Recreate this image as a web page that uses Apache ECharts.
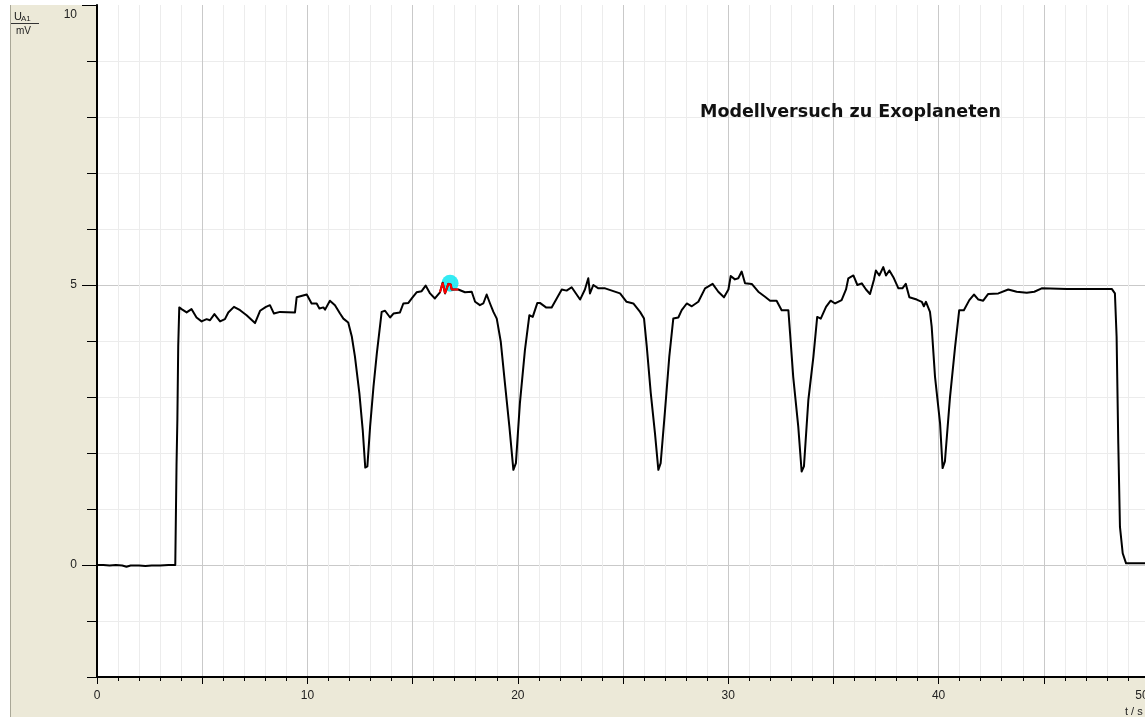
<!DOCTYPE html>
<html>
<head>
<meta charset="utf-8">
<title>Modellversuch zu Exoplaneten</title>
<script src="https://cdn.jsdelivr.net/npm/echarts@6/dist/echarts.min.js"></script>
<style>
  html, body { margin: 0; padding: 0; background: #ffffff; }
  #chart { width: 1145px; height: 717px; }
</style>
</head>
<body>
<div id="chart"></div>
<script>
// Measured light-curve: photo voltage U_A1 (mV) over time t (s)
const timeS = [
  0.00, 0.30, 0.60, 0.90, 1.20, 1.40, 1.60, 2.00, 2.30, 2.60, 3.00, 3.40, 3.72,
  3.78, 3.82, 3.86, 3.91, 4.02, 4.26, 4.49, 4.73, 4.97, 5.21, 5.37, 5.58, 5.85,
  6.08, 6.24, 6.51, 6.80, 7.11, 7.51, 7.75, 8.03, 8.22, 8.41, 8.70, 9.41, 9.49,
  9.97, 10.20, 10.44, 10.57, 10.76, 10.84, 11.07, 11.31, 11.55, 11.71, 11.94,
  12.11, 12.26, 12.47, 12.63, 12.75, 12.85, 12.98, 13.14, 13.30, 13.53, 13.69,
  13.93, 14.09, 14.40, 14.48, 14.56, 14.80, 14.96, 15.19, 15.43, 15.62, 15.83,
  16.06, 16.30, 16.43, 16.54, 16.70, 16.81, 16.86, 17.17, 17.49, 17.81, 17.97,
  18.20, 18.36, 18.52, 18.68, 18.84, 19.00, 19.19, 19.39, 19.60, 19.79, 19.91,
  20.10, 20.34, 20.55, 20.71, 20.93, 21.05, 21.34, 21.61, 21.85, 22.09, 22.32,
  22.56, 22.96, 23.19, 23.35, 23.43, 23.59, 23.83, 24.15, 24.54, 24.86, 25.17,
  25.49, 25.81, 26.00, 26.13, 26.32, 26.52, 26.68, 26.79, 27.00, 27.20, 27.39,
  27.63, 27.79, 28.03, 28.27, 28.58, 28.90, 29.26, 29.53, 29.80, 30.01, 30.12,
  30.32, 30.48, 30.64, 30.80, 31.12, 31.43, 31.75, 31.99, 32.30, 32.54, 32.86,
  32.94, 33.09, 33.33, 33.49, 33.60, 33.81, 34.05, 34.23, 34.40, 34.65, 34.87,
  35.08, 35.39, 35.60, 35.71, 35.95, 36.14, 36.35, 36.55, 36.74, 36.93, 37.02,
  37.18, 37.37, 37.50, 37.66, 37.85, 38.09, 38.28, 38.44, 38.61, 38.96, 39.20,
  39.30, 39.40, 39.59, 39.67, 39.83, 40.07, 40.19, 40.30, 40.54, 40.78, 40.98,
  41.20, 41.46, 41.68, 41.89, 42.12, 42.36, 42.84, 43.31, 43.71, 44.19, 44.55,
  44.90, 46.09, 47.19, 48.23, 48.38, 48.46, 48.54, 48.62, 48.75, 48.91, 49.50,
  49.90
];
const voltageMV = [
  0.00, 0.00, -0.01, 0.00, -0.01, -0.03, -0.01, -0.01, -0.02, -0.01, -0.01, 0.00, 0.00,
  1.80, 2.60, 3.90, 4.60, 4.57, 4.51, 4.57, 4.42, 4.35, 4.39, 4.37, 4.48, 4.35,
  4.39, 4.51, 4.61, 4.55, 4.46, 4.32, 4.54, 4.61, 4.64, 4.49, 4.52, 4.51, 4.78,
  4.83, 4.67, 4.67, 4.58, 4.60, 4.56, 4.72, 4.64, 4.49, 4.40, 4.33,
  4.08, 3.72, 3.07, 2.41, 1.74, 1.76, 2.47, 3.18, 3.78, 4.52, 4.54,
  4.42, 4.49, 4.51, 4.51, 4.67, 4.68, 4.76, 4.87, 4.89, 4.99, 4.85,
  4.76, 4.87, 5.04, 4.85, 5.02, 5.01, 4.92, 4.92, 4.87, 4.88, 4.70,
  4.64, 4.67, 4.83, 4.67, 4.52, 4.40, 3.99, 3.24, 2.47, 1.70, 1.82,
  2.89, 3.84, 4.46, 4.43, 4.68, 4.68, 4.60, 4.60, 4.76, 4.92, 4.90,
  4.96, 4.74, 4.92, 5.12, 4.85, 5.00, 4.94, 4.94, 4.89, 4.85, 4.70,
  4.67, 4.52, 4.40, 3.90, 3.07, 2.35, 1.70, 1.82, 2.77, 3.72, 4.40,
  4.42, 4.55, 4.67, 4.62, 4.70, 4.94, 5.02, 4.88, 4.78, 4.92, 5.16,
  5.10, 5.12, 5.24, 5.03, 5.02, 4.88, 4.79, 4.72, 4.72, 4.55, 4.55,
  4.14, 3.36, 2.47, 1.67, 1.76, 2.95, 3.72, 4.43, 4.40, 4.61, 4.72,
  4.67, 4.73, 4.92, 5.12, 5.17, 5.00, 5.03, 4.92, 4.84, 5.10, 5.26,
  5.17, 5.32, 5.17, 5.26, 5.14, 4.94, 4.94, 5.02, 4.78, 4.74, 4.70,
  4.62, 4.70, 4.52, 4.26, 3.36, 2.53, 1.73, 1.85, 2.99, 3.88, 4.55,
  4.55, 4.73, 4.83, 4.74, 4.72, 4.84, 4.85, 4.92, 4.88, 4.86, 4.88,
  4.94, 4.93, 4.93, 4.93, 4.85, 4.08, 2.17, 0.68, 0.21, 0.03, 0.03,
  0.03
];

// Cursor: highlighted stretch of the trace and the cursor point
const cursorRangeS = [16.30, 17.17];
const cursorPoint = [16.78, 5.03];

// Axis labelling
const xLabelValues = [0, 10, 20, 30, 40, 50];
const yLabelValues = [0, 5, 10];
const chartTitle = 'Modellversuch zu Exoplaneten';

const trace = timeS.map((t, i) => [t, voltageMV[i]]);
const cursorTrace = trace.filter(p => p[0] >= cursorRangeS[0] && p[0] <= cursorRangeS[1]);

const PANEL = '#ECE9D8';
const TXT = '#222222';
const FONT = 'Liberation Sans, Arial, sans-serif';
const GRID_MAJOR = '#c9c9c9';
const GRID_MINOR = '#ececec';

const chart = echarts.init(document.getElementById('chart'), null, { renderer: 'canvas' });

const lastX = xLabelValues[xLabelValues.length - 1];
const lastY = yLabelValues[yLabelValues.length - 1];

chart.setOption({
  animation: false,
  backgroundColor: '#ffffff',
  title: {
    text: chartTitle,
    left: 700,
    top: 103,
    padding: 0,
    textStyle: { fontFamily: 'DejaVu Sans', fontSize: 17.5, fontWeight: 'bold', color: '#111111' }
  },
  // the plot runs slightly past the right edge of the page (t = 50 s lies just outside)
  grid: { left: 97, right: -4, top: 5, bottom: 40, show: false, containLabel: false, outerBoundsMode: 'none' },
  xAxis: [
    {
      type: 'value', min: 0, max: 50, interval: 1, position: 'bottom',
      axisLine: { show: true, onZero: false, lineStyle: { color: '#000', width: 2 } },
      axisTick: { show: true, length: 4, lineStyle: { color: '#000', width: 1 } },
      axisLabel: { show: false },
      splitLine: {
        show: true,
        lineStyle: { width: 1, color: [GRID_MAJOR, GRID_MINOR, GRID_MINOR, GRID_MINOR, GRID_MINOR] }
      }
    },
    {
      type: 'value', min: 0, max: 50, interval: 5, position: 'bottom',
      axisLine: { show: false, onZero: false },
      axisTick: { show: true, length: 7, lineStyle: { color: '#000', width: 1 } },
      axisLabel: {
        show: true, margin: 13, color: TXT, fontFamily: FONT, fontSize: 12,
        hideOverlap: false,
        // last label is nudged left so it stays near the page edge
        formatter: v => (xLabelValues.includes(v) ? (v === lastX ? '{end|' + v + '}' : '{n|' + v + '}') : ''),
        rich: {
          end: { padding: [0, 14, 0, 0], color: TXT, fontFamily: FONT, fontSize: 12 },
          n: { color: TXT, fontFamily: FONT, fontSize: 12 }
        }
      },
      splitLine: { show: false }
    }
  ],
  yAxis: [
    {
      type: 'value', min: -2, max: 10, interval: 1, position: 'left',
      axisLine: { show: true, onZero: false, lineStyle: { color: '#000', width: 2 } },
      axisTick: { show: true, length: 10, lineStyle: { color: '#000', width: 1 } },
      axisLabel: { show: false },
      splitLine: {
        show: true, showMaxLine: false,
        lineStyle: { width: 1, color: [GRID_MINOR, GRID_MINOR, GRID_MAJOR, GRID_MINOR, GRID_MINOR] }
      }
    },
    {
      type: 'value', min: -2, max: 10, interval: 1, position: 'left',
      axisLine: { show: false, onZero: false },
      axisTick: { show: true, length: 15, customValues: yLabelValues, lineStyle: { color: '#000', width: 1 } },
      axisLabel: {
        show: true, margin: 20, customValues: yLabelValues, color: TXT, fontFamily: FONT, fontSize: 12,
        // top label sits just below its tick
        formatter: v => (v === lastY ? '{top|' + v + '}' : '{n|' + v + '}'),
        rich: {
          top: { padding: [20, 0, 0, 0], color: TXT, fontFamily: FONT, fontSize: 12 },
          n: { color: TXT, fontFamily: FONT, fontSize: 12 }
        }
      },
      splitLine: { show: false }
    }
  ],
  graphic: [
    { type: 'rect', silent: true, z: -10, shape: { x: 10, y: 5, width: 87, height: 712 }, style: { fill: PANEL } },
    { type: 'rect', silent: true, z: -10, shape: { x: 97, y: 677, width: 1048, height: 40 }, style: { fill: PANEL } },
    { type: 'line', silent: true, z: -9, shape: { x1: 10.5, y1: 5, x2: 10.5, y2: 717 }, style: { stroke: '#a9a797', lineWidth: 1 } },
    // y-axis quantity U_A1 / mV
    { type: 'text', silent: true, left: 14, top: 11, style: { text: 'U', font: '11px ' + FONT, fill: TXT } },
    { type: 'text', silent: true, left: 21, top: 15, style: { text: 'A1', font: '8px ' + FONT, fill: TXT } },
    { type: 'line', silent: true, shape: { x1: 11, y1: 23.5, x2: 39, y2: 23.5 }, style: { stroke: '#333', lineWidth: 1 } },
    { type: 'text', silent: true, left: 16, top: 26, style: { text: 'mV', font: '10px ' + FONT, fill: TXT } },
    // x-axis quantity t / s
    { type: 'text', silent: true, left: 1125, top: 706, style: { text: 't / s', font: '11px ' + FONT, fill: TXT } }
  ],
  series: [
    {
      name: 'Cursor', type: 'scatter', xAxisIndex: 0, yAxisIndex: 0, z: 1,
      symbol: 'circle', symbolSize: 17, silent: true,
      itemStyle: { color: '#00e6f0' },
      data: [cursorPoint]
    },
    {
      name: 'U_A1', type: 'line', xAxisIndex: 0, yAxisIndex: 0, z: 2,
      showSymbol: false, symbol: 'none', silent: true,
      lineStyle: { color: '#000000', width: 2, join: 'round' },
      data: trace
    },
    {
      name: 'Cursor trace', type: 'line', xAxisIndex: 0, yAxisIndex: 0, z: 3,
      showSymbol: false, symbol: 'none', silent: true,
      lineStyle: { color: '#ff0000', width: 2 },
      data: cursorTrace
    }
  ]
});
</script>
</body>
</html>
